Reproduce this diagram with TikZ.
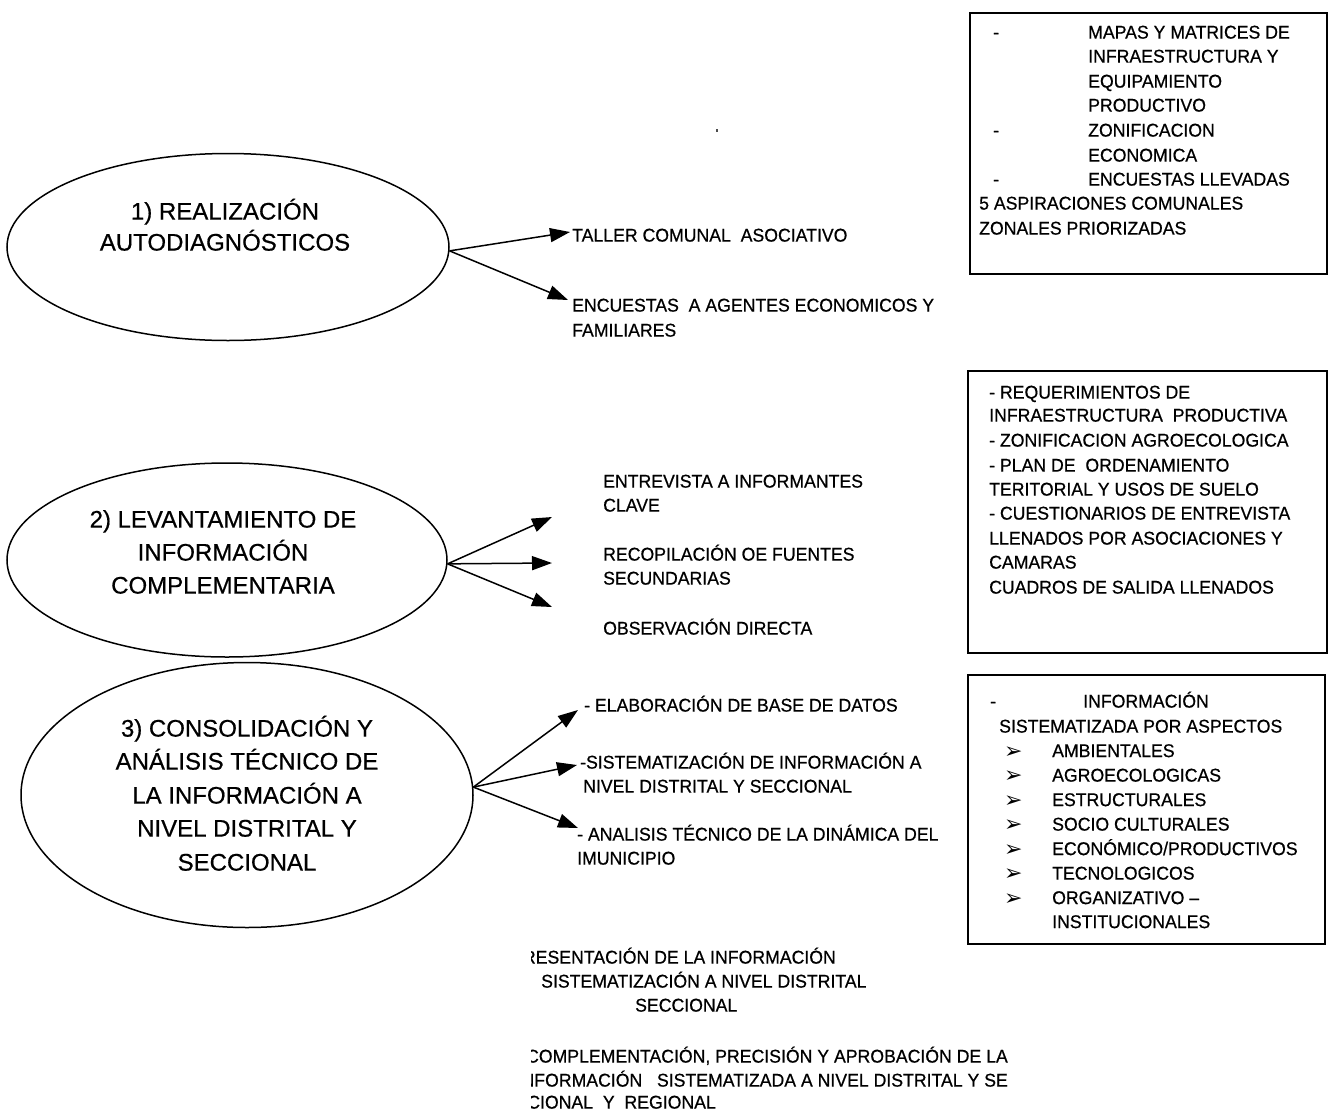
\documentclass[tikz,border=0pt]{standalone}
\usepackage{fontspec}
\setmainfont{Liberation Sans}[FakeBold=0.5]
\newfontfamily\bigfnt{Liberation Sans}[FakeBold=0.6]
\newfontfamily\smallfnt{Liberation Sans}[FakeStretch=0.955,FakeBold=0.6]
\newfontfamily\symfnt{DejaVu Sans}
\usetikzlibrary{arrows.meta,shapes.geometric}
\tikzset{
  oval/.style={draw, line width=1.5pt, ellipse, inner sep=0pt},
  big/.style={font=\bigfnt\fontsize{24}{33}\selectfont, inner sep=0pt, anchor=base},
  sm/.style={font=\smallfnt\fontsize{18.5}{24.5}\selectfont, inner sep=0pt, anchor=base west},
  sme/.style={sm, anchor=base east},
  bul/.style={font=\symfnt\fontsize{22}{24}\selectfont, inner sep=0pt, anchor=base west},
  arr/.style={line width=1.5pt, -{Triangle[length=20pt,width=14pt]}},
  panel/.style={draw, line width=1.8pt},
}
\begin{document}
\begin{tikzpicture}[x=1pt,y=-1pt]
\fill[white] (0,0) rectangle (1331,1112);
\useasboundingbox (0,0) rectangle (1331,1112);

% ellipses
\node[oval, minimum width=442pt, minimum height=187pt] (e1) at (228,247) {};
\node[oval, minimum width=440pt, minimum height=194pt] (e2) at (227,560) {};
\node[oval, minimum width=452pt, minimum height=265pt] (e3) at (247,795) {};

\node[big] (e1l1) at (225,219.6) {1) REALIZACIÓN};
\node[big] (e1l2) at (225,250.6) {AUTODIAGNÓSTICOS};

\node[big] (e2l1) at (223,527.6) {2) LEVANTAMIENTO DE};
\node[big] (e2l2) at (223,560.6) {INFORMACIÓN};
\node[big] (e2l3) at (223,593.6) {COMPLEMENTARIA};

\node[big] (e3l1) at (247,736.6) {3) CONSOLIDACIÓN Y};
\node[big] (e3l2) at (247,769.6) {ANÁLISIS TÉCNICO DE};
\node[big] (e3l3) at (247,803.6) {LA INFORMACIÓN A};
\node[big] (e3l4) at (247,836.6) {NIVEL DISTRITAL Y};
\node[big] (e3l5) at (247,870.6) {SECCIONAL};

% arrow tips
\coordinate (p11) at (570,232);
\coordinate (p12) at (568,300);
\coordinate (p21) at (552,517);
\coordinate (p22) at (552,563);
\coordinate (p23) at (552,607);
\coordinate (p31) at (578,710);
\coordinate (p32) at (577,765);
\coordinate (p33) at (578,828);

\draw[arr] (e1.-1) -- (p11);
\draw[arr] (e1.-1) -- (p12);
\draw[arr] (e2.-1) -- (p21);
\draw[arr] (e2.-1) -- (p22);
\draw[arr] (e2.-1) -- (p23);
\draw[arr] (e3.2) -- (p31);
\draw[arr] (e3.2) -- (p32);
\draw[arr] (e3.2) -- (p33);

% texts of step 1
\node[sm] (t11) at (572,241.6) {TALLER COMUNAL\ \ ASOCIATIVO};
\node[sm] (t12) at (572,311.6) {ENCUESTAS\ \ A AGENTES ECONOMICOS Y};
\node[sm] (t12b) at (572,336.6) {FAMILIARES};

% texts of step 2
\node[sm] (t21) at (603,487.6) {ENTREVISTA A INFORMANTES};
\node[sm] (t21b) at (603,511.6) {CLAVE};
\node[sm] (t22) at (603,560.6) {RECOPILACIÓN OE FUENTES};
\node[sm] (t22b) at (603,584.6) {SECUNDARIAS};
\node[sm] (t23) at (603,634.6) {OBSERVACIÓN DIRECTA};

% texts of step 3
\node[sm] (t31) at (584,711.6) {- ELABORACIÓN DE BASE DE DATOS};
\node[sm] (t32) at (580,768.6) {-SISTEMATIZACIÓN DE INFORMACIÓN A};
\node[sm] (t32b) at (583,792.6) {NIVEL DISTRITAL Y SECCIONAL};
\node[sm] (t33) at (577,840.6) {- ANALISIS TÉCNICO DE LA DINÁMICA DEL};
\node[sm] (t33b) at (577,864.6) {IMUNICIPIO};

% box 1
\draw[panel] (970,13) rectangle (1327,274);
\node[sm] (b1d1) at (993,38.6) {-};
\node[sm] (b1l1) at (1088,38.6) {MAPAS Y MATRICES DE};
\node[sm] (b1l2) at (1088,62.6) {INFRAESTRUCTURA Y};
\node[sm] (b1l3) at (1088,87.6) {EQUIPAMIENTO};
\node[sm] (b1l4) at (1088,111.6) {PRODUCTIVO};
\node[sm] (b1d2) at (993,136.6) {-};
\node[sm] (b1l5) at (1088,136.6) {ZONIFICACION};
\node[sm] (b1l6) at (1088,161.6) {ECONOMICA};
\node[sm] (b1d3) at (993,185.6) {-};
\node[sm] (b1l7) at (1088,185.6) {ENCUESTAS LLEVADAS};
\node[sm] (b1l8) at (979,209.6) {5 ASPIRACIONES COMUNALES};
\node[sm] (b1l9) at (979,234.6) {ZONALES PRIORIZADAS};

% box 2
\draw[panel] (968,371) rectangle (1327,653);
\node[sm] (b2l1) at (989,398.6) {- REQUERIMIENTOS DE};
\node[sm] (b2l2) at (989,421.6) {INFRAESTRUCTURA\ \ PRODUCTIVA};
\node[sm] (b2l3) at (989,446.6) {- ZONIFICACION AGROECOLOGICA};
\node[sm] (b2l4) at (989,471.6) {- PLAN DE\ \ ORDENAMIENTO};
\node[sm] (b2l5) at (989,495.6) {TERITORIAL Y USOS DE SUELO};
\node[sm] (b2l6) at (989,519.6) {- CUESTIONARIOS DE ENTREVISTA};
\node[sm] (b2l7) at (989,544.6) {LLENADOS POR ASOCIACIONES Y};
\node[sm] (b2l8) at (989,568.6) {CAMARAS};
\node[sm] (b2l9) at (989,593.6) {CUADROS DE SALIDA LLENADOS};

% box 3
\draw[panel] (968,675) rectangle (1325,944);
\node[sm] (b3d) at (990,707.6) {-};
\node[sm] (b3l1) at (1083,707.6) {INFORMACIÓN};
\node[sm] (b3l2) at (999,732.6) {SISTEMATIZADA POR ASPECTOS};
\foreach \t [count=\i] in {AMBIENTALES, AGROECOLOGICAS, ESTRUCTURALES, SOCIO CULTURALES, ECONÓMICO/PRODUCTIVOS, TECNOLOGICOS, ORGANIZATIVO –}{
  \node[bul] (b3b\i) at (1004,{733.6+24.5*\i}) {➢};
  \node[sm] (b3a\i) at (1052,{732.6+24.5*\i}) {\t};
}
\node[sm] (b3a8) at (1052,928.1) {INSTITUCIONALES};

% bottom texts (cut at the left edge)
\begin{scope}
\clip (531,935) rectangle (1331,1112);
\node[sme] (r1) at (836,963.6) {RESENTACIÓN DE LA INFORMACIÓN};
\node[sm] (r2) at (541,987.6) {SISTEMATIZACIÓN A NIVEL DISTRITAL};
\node[sm] (r3) at (635,1011.6) {SECCIONAL};
\node[sme] (r4) at (1008,1062.6) {COMPLEMENTACIÓN, PRECISIÓN Y APROBACIÓN DE LA};
\node[sme] (r5) at (1008,1086.6) {NFORMACIÓN\ \ \ SISTEMATIZADA A NIVEL DISTRITAL Y SE};
\node[sme] (r6) at (716,1108.6) {CIONAL\ \ Y\ \ REGIONAL};
\end{scope}

% speck
\fill[black!70] (716,129) rectangle (718,132);
\end{tikzpicture}
\end{document}
